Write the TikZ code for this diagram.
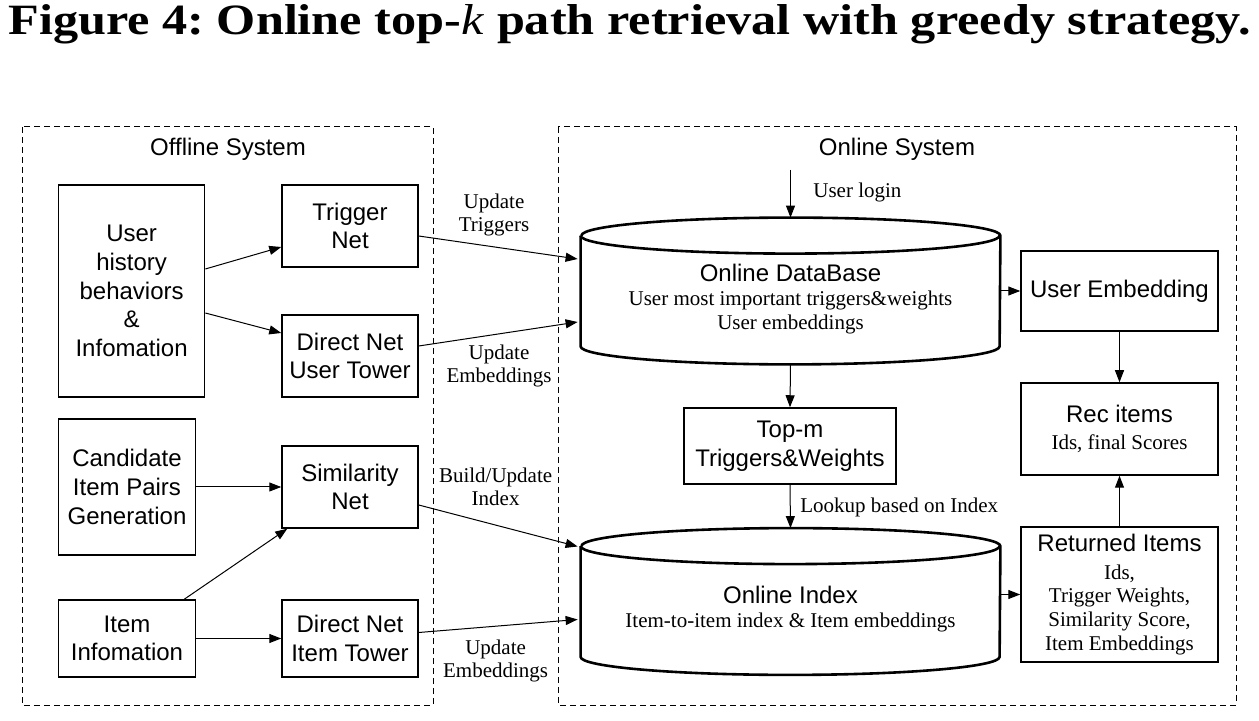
\documentclass[tikz,border=0pt]{standalone}
\usepackage{fontspec}
\setmainfont{Liberation Serif}
\setsansfont{Liberation Sans}
\usetikzlibrary{arrows.meta}
\frenchspacing

\tikzset{
  box/.style={draw, line width=0.75pt, align=center, inner sep=0pt,
    font=\sffamily\fontsize{12}{14.3}\selectfont},
  cylbox/.style={inner sep=0pt, minimum width=209.5pt, minimum height=73pt},
  cyl/.style={line width=1.3pt},
  txt/.style={align=center, inner sep=0pt, font=\fontsize{10.5}{11.8}\selectfont},
  head/.style={inner sep=0pt, font=\sffamily\fontsize{12}{14.3}\selectfont},
  sys/.style={draw, dash pattern=on 3pt off 2pt, line width=0.5pt},
  arr/.style={-{Triangle[length=6pt,width=4.5pt]}, line width=0.5pt},
}
\newcommand\sansline[1]{{\sffamily\fontsize{12}{14.3}\selectfont #1}}
% cylinder drawn round an empty node
\newcommand\drawcyl[1]{%
  \draw[cyl] ([yshift=-9pt]#1.north west) -- ([yshift=9pt]#1.south west)
    arc[start angle=180, end angle=360, x radius=104.75pt, y radius=9pt]
    -- ([yshift=-9pt]#1.north east)
    arc[start angle=0, end angle=180, x radius=104.75pt, y radius=9pt];
  \draw[cyl] ([yshift=-9pt]#1.north west)
    arc[start angle=180, end angle=360, x radius=104.75pt, y radius=9pt];}

\begin{document}
\begin{tikzpicture}[x=0.5pt, y=-0.5pt]
  \useasboundingbox (0,0) rectangle (1259,721);
  \node[anchor=base west, inner sep=0pt] (title) at (8,35)
    {\resizebox{621pt}{15pt}{\bfseries Figure 4: Online top-\textit{\mdseries k} path retrieval with greedy strategy.}};

  % the two systems
  \draw[sys] (22,127) rectangle (433,705);
  \draw[sys] (558,127) rectangle (1236,705);
  \node[head] (offl) at (228,149) {Offline System};
  \node[head] (onl) at (897,149) {Online System};

  % offline side
  \node[box, minimum width=73pt, minimum height=106pt] (user) at (131.6,291)
    {User\\history\\behaviors\\\&\\Infomation};
  \node[box, minimum width=68pt, minimum height=41pt] (trig) at (350,226) {Trigger\\Net};
  \node[box, minimum width=68pt, minimum height=41pt] (utower) at (350,356) {Direct Net\\User Tower};
  \node[box, minimum width=68.5pt, minimum height=68pt] (cand) at (127,487)
    {Candidate\\Item Pairs\\Generation};
  \node[box, minimum width=68pt, minimum height=41pt] (sim) at (350,487) {Similarity\\Net};
  \node[box, minimum width=68.5pt, minimum height=38.5pt] (iinfo) at (127,638.5) {Item\\Infomation};
  \node[box, minimum width=68pt, minimum height=38.5pt] (itower) at (350,638.5) {Direct Net\\Item Tower};

  % online side
  \node[cylbox] (db) at (790.5,291) {};
  \drawcyl{db}
  \node[txt] (dbtext) at (790.5,299)
    {\sansline{Online DataBase}\\User most important triggers\&weights\\User embeddings};
  \node[box, minimum width=106pt, minimum height=38pt] (topm) at (790,446) {Top-m\\Triggers\&Weights};
  \node[cylbox] (index) at (790.5,601.5) {};
  \drawcyl{index}
  \node[txt] (idxtext) at (790.5,609)
    {\sansline{Online Index}\\Item-to-item index \& Item embeddings};
  \node[box, minimum width=98.5pt, minimum height=40pt] (uemb) at (1119.5,291) {User Embedding};
  \node[box, txt, draw, line width=0.75pt, minimum width=98.5pt, minimum height=46pt] (rec) at (1119.5,429)
    {\sansline{Rec items}\\[2pt]Ids, final Scores};
  \node[box, txt, draw, line width=0.75pt, minimum width=98.5pt, minimum height=67.5pt] (ret) at (1119.5,594.5)
    {\sansline{Returned Items}\\[2pt]Ids,\\Trigger Weights,\\Similarity Score,\\Item Embeddings};

  % connectors
  \draw[arr] ([yshift=11pt]user.east) -- ([yshift=-10.5pt]trig.west);
  \draw[arr] ([yshift=-11pt]user.east) -- ([yshift=11.5pt]utower.west);
  \draw[arr] (cand) -- (sim);
  \draw[arr] ([xshift=-6pt]iinfo.north east) -- ([xshift=3pt]sim.south west);
  \draw[arr] (iinfo) -- (itower);
  \draw[arr] ([yshift=-5pt]trig.east) -- ([xshift=-1.5pt,yshift=16pt]db.west);
  \draw[arr] ([yshift=5pt]utower.east) -- ([xshift=-1.5pt,yshift=-15.5pt]db.west);
  \draw[arr] ([yshift=-9pt]sim.east) -- ([xshift=-1.5pt,yshift=27.5pt]index.west);
  \draw[arr] ([yshift=3pt]itower.east) -- ([xshift=-1.5pt,yshift=-9pt]index.west);
  \node[txt] (lab1) at (494,215) {Update\\Triggers};
  \node[txt] (lab2) at (499,366) {Update\\Embeddings};
  \node[txt] (lab3) at (495.6,487) {Build/Update\\Index};
  \node[txt] (lab4) at (495.6,661) {Update\\Embeddings};

  \coordinate (login) at (790.5,170);
  \draw[arr] (login) -- (db.north);
  \node[txt, anchor=west] (loginlab) at (813,192) {User login};
  \draw[arr] (db.south) -- (topm.north);
  \draw[arr] (topm.south) -- (index.north);
  \node[txt, anchor=west] (lookup) at (800,507) {Lookup based on Index};
  \draw[arr] (db.east) -- (uemb.west);
  \draw[arr] (uemb.south) -- (rec.north);
  \draw[arr] (ret.west -| index.east) -- (ret.west);
  \draw[arr] (ret.north) -- (rec.south);
\end{tikzpicture}
\end{document}
